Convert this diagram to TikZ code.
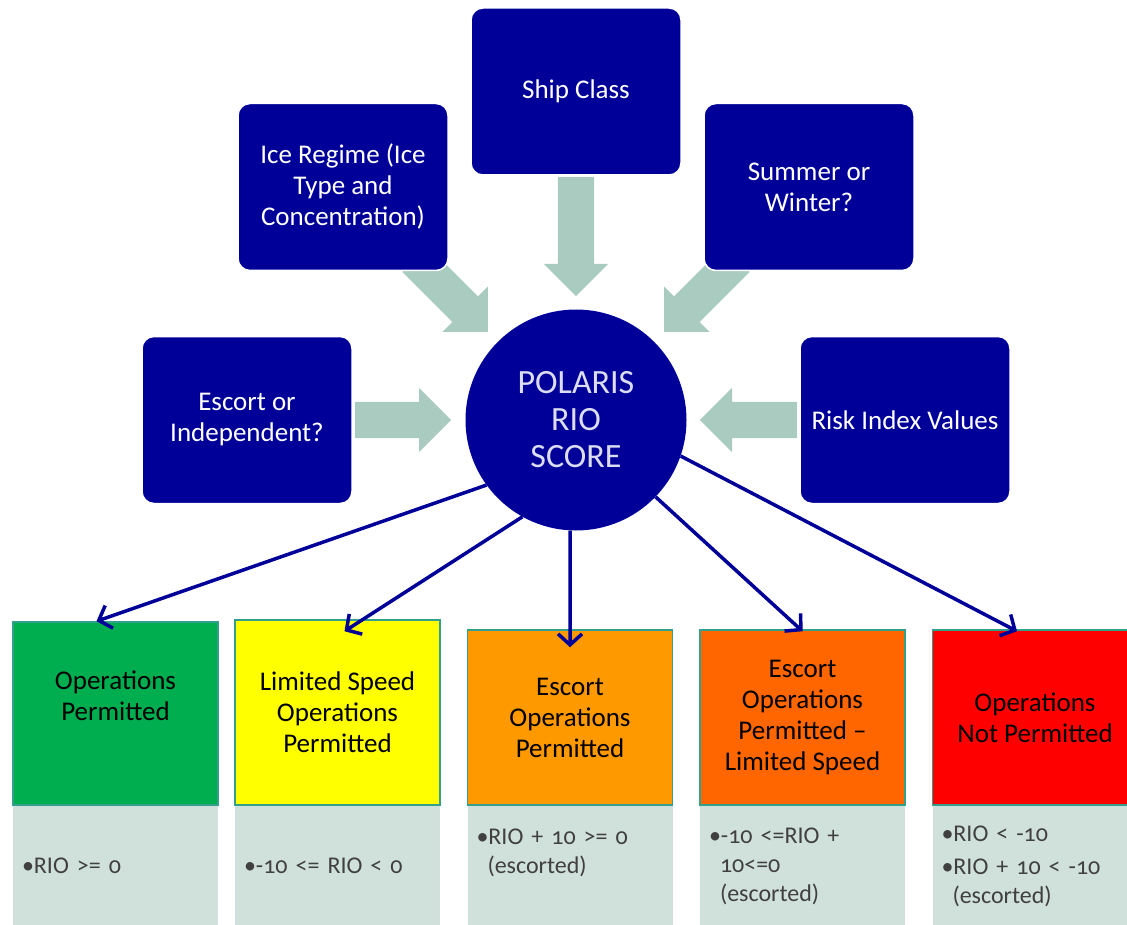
\documentclass[tikz,border=0pt]{standalone}
\usepackage{fontspec}
\setmainfont{Carlito}
\newfontfamily\oldstyle[Numbers=OldStyle]{Carlito}
\usepackage{xcolor}
\definecolor{navyBlue}{HTML}{000099}
\definecolor{sageGreen}{HTML}{AACBBF}
\definecolor{paleGrey}{HTML}{D0E0DA}
\definecolor{edgeTeal}{HTML}{33A08C}
\definecolor{goGreen}{HTML}{00AD4F}
\definecolor{cautionYellow}{HTML}{FFFF00}
\definecolor{escortOrange}{HTML}{FF9900}
\definecolor{darkOrange}{HTML}{FF6600}
\definecolor{stopRed}{HTML}{FF0000}
\definecolor{scoreText}{HTML}{DCDCF2}
\definecolor{noteText}{HTML}{404040}
\usepackage{tikz}
\usetikzlibrary{arrows.meta}
\tikzset{arrow/.style = {> = {Straight Barb[length = 11pt, width = 24pt]}}}
\usetikzlibrary{positioning}
\usetikzlibrary{shapes.arrows}
\usetikzlibrary{backgrounds}

\begin{document}
\begin{tikzpicture}[x = 1pt, y = -1pt,
	input/.style = {rectangle, rounded corners = 12pt, fill = navyBlue, draw = white, line width = 1.5pt, text = white, minimum width = 210pt, minimum height = 167pt, align = center, font = \fontsize{27}{31}\selectfont},
	flow/.style = {single arrow, fill = sageGreen, inner xsep = 0pt, inner ysep = 18pt, single arrow head extend = 14pt, anchor = tail},
	outcome/.style = {rectangle, draw = edgeTeal, line width = 1.5pt, minimum width = 205pt, minimum height = 175pt, align = center, font = \fontsize{27}{31}\selectfont},
	note/.style = {rectangle, fill = paleGrey, minimum width = 205pt, minimum height = 120pt, text width = 187pt, align = left, text = noteText, font = \oldstyle\fontsize{24}{29}\selectfont, below = 0pt of #1},
	link/.style = {->, arrow, draw = navyBlue, line width = 3.5pt}]
	\useasboundingbox (0, 0) rectangle (1127, 925);

	%% Inputs
	\node[input] (ship) at (576, 91.5) {Ship Class};
	\node[input] (ice) at (343, 187) {Ice Regime (Ice\\ Type and\\ Concentration)};
	\node[input] (season) at (809, 187) {Summer or\\ Winter?};
	\node[input] (escort) at (247, 420) {Escort or\\ Independent?};
	\node[input] (risk) at (905, 420) {Risk Index Values};

	%% Score
	\node[circle, fill = navyBlue, minimum size = 221pt, inner sep = 0pt, text = scoreText, align = center, font = \fontsize{34}{37}\selectfont] (rio) at (576, 420) {POLARIS\\ RIO\\ SCORE};

	\begin{scope}[on background layer] % From background library
		\node[flow, minimum height = 119pt, rotate = -90] (shipflow) at (576, 177) {};
		\node[flow, minimum height = 103pt, rotate = -45] (iceflow) at (415, 259) {};
		\node[flow, minimum height = 103pt, rotate = -135] (seasonflow) at (737, 259) {};
		\node[flow, minimum height = 96pt] (escortflow) at (355, 420) {};
		\node[flow, minimum height = 97pt, rotate = 180] (riskflow) at (797, 420) {};
	\end{scope}

	%% Outcomes
	\node[outcome, fill = goGreen, minimum height = 183pt] (permitted) at (115.5, 713.5) {Operations\\ Permitted\\[4pt] \mbox{}};
	\node[outcome, fill = cautionYellow, minimum height = 185pt] (limited) at (337.5, 712.5) {Limited Speed\\ Operations\\ Permitted};
	\node[outcome, fill = escortOrange] (escorted) at (570, 717.5) {Escort\\ Operations\\ Permitted};
	\node[outcome, fill = darkOrange] (escortLimited) at (802.5, 717.5) {Escort\\ Operations\\ Permitted --\\ Limited Speed};
	\node[outcome, fill = stopRed] (refused) at (1035, 717.5) {Operations\\ Not Permitted};

	% ... and their thresholds
	\node[note = permitted] (permittedNote) {\textbullet RIO >= 0};
	\node[note = limited] (limitedNote) {\textbullet-10 <= RIO < 0};
	\node[note = escorted] (escortedNote) {\textbullet RIO + 10 >= 0\\ \hspace*{11pt}(escorted)\\ \mbox{}};
	\node[note = escortLimited] (escortLimitedNote) {\textbullet-10 <=RIO +\\ \hspace*{11pt}10<=0\\ \hspace*{11pt}(escorted)};
	\node[note = refused] (refusedNote) {\textbullet RIO < -10\\[4pt] \textbullet RIO + 10 < -10\\ \hspace*{11pt}(escorted)};

	%% Arrows...
	\coordinate (permittedTip) at ([xshift = -19pt]permitted.north);
	\coordinate (limitedTip) at ([xshift = 7pt, yshift = -12pt]limited.north);
	\coordinate (escortedTip) at ([yshift = -18pt]escorted.north);
	\coordinate (escortLimitedTip) at ([yshift = -2pt]escortLimited.north);
	\coordinate (refusedTip) at ([xshift = -18pt, yshift = -2pt]refused.north);

	\draw[link] (rio.216) -- (permittedTip);
	\draw[link] (rio.241) -- (limitedTip);
	\draw[link] (rio.267) -- (escortedTip);
	\draw[link] (rio.316) -- (escortLimitedTip);
	\draw[link] (rio.341) -- (refusedTip);
\end{tikzpicture}
\end{document}
